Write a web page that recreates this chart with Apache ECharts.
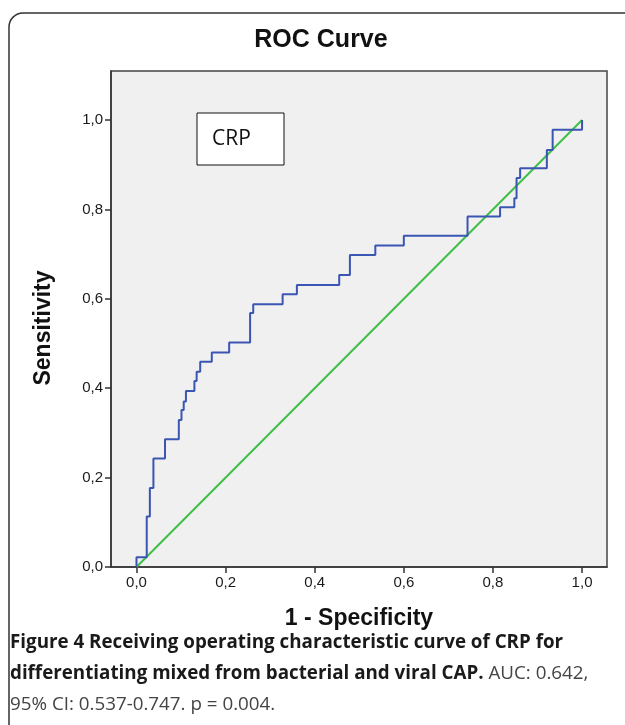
<!DOCTYPE html>
<html>
<head>
<meta charset="utf-8">
<script src="https://cdn.jsdelivr.net/npm/echarts@6/dist/echarts.min.js"></script>
<style>
  html, body { margin: 0; padding: 0; background: #fff; }
  #chart { width: 625px; height: 725px; }
</style>
</head>
<body>
<div id="chart"></div>
<script>
// ROC points (1 - specificity, sensitivity), drawn as a step line
var fpr = [0, 0, 0.023, 0.030, 0.038, 0.064, 0.095, 0.101, 0.106, 0.111, 0.130, 0.135, 0.143, 0.169, 0.208,
	0.255, 0.262, 0.328, 0.360, 0.455, 0.479, 0.536, 0.600, 0.743, 0.816, 0.848, 0.853, 0.861, 0.921, 0.934, 1.000];
var tpr = [0, 0.022, 0.113, 0.177, 0.243, 0.286, 0.329, 0.351, 0.370, 0.394, 0.416, 0.437, 0.459, 0.480, 0.502,
	0.568, 0.588, 0.610, 0.631, 0.653, 0.698, 0.719, 0.741, 0.784, 0.805, 0.825, 0.870, 0.892, 0.933, 0.978, 1.000];
var refX = [0, 1];
var refY = [0, 1];
var ticks = [0, 0.2, 0.4, 0.6, 0.8, 1.0];

var rocData = [];
for (var i = 0; i < fpr.length; i++) {
	rocData.push([fpr[i], tpr[i]]);
}
var refData = [];
for (var j = 0; j < refX.length; j++) {
	refData.push([refX[j], refY[j]]);
}

function fmt(v) {
	return v.toFixed(1).replace('.', ',');
}

var chart = echarts.init(document.getElementById('chart'));
var option = {
	backgroundColor: '#fff',
	animation: false,
	grid: {
		left: 111, top: 71, right: 18, bottom: 158,
		show: true,
		backgroundColor: '#f0f0f0',
		borderColor: '#444',
		borderWidth: 1.5
	},
	xAxis: {
		type: 'value',
		min: -0.0572,
		max: 1.056,
		name: '1 - Specificity',
		nameLocation: 'middle',
		nameGap: 40,
		nameTextStyle: { fontFamily: 'Liberation Sans', fontWeight: 'bold', fontSize: 23, color: '#111' },
		axisLine: { show: true, onZero: false, lineStyle: { color: '#333', width: 1.5 } },
		axisTick: { show: true, length: 6, customValues: ticks, lineStyle: { color: '#333', width: 1.5 } },
		axisLabel: {
			customValues: ticks, formatter: fmt, margin: 8,
			fontFamily: 'Liberation Sans', fontSize: 15, color: '#1a1a1a'
		},
		splitLine: { show: false }
	},
	yAxis: {
		type: 'value',
		min: 0,
		max: 1.1096,
		axisLine: { show: true, onZero: false, lineStyle: { color: '#333', width: 1.5 } },
		axisTick: { show: true, length: 6, customValues: ticks, lineStyle: { color: '#333', width: 1.5 } },
		axisLabel: {
			customValues: ticks, formatter: fmt, margin: 8,
			fontFamily: 'Liberation Sans', fontSize: 15, color: '#1a1a1a'
		},
		splitLine: { show: false }
	},
	series: [
		{
			name: 'Reference',
			type: 'line',
			data: refData,
			showSymbol: false,
			lineStyle: { color: '#3fbf47', width: 2 },
			z: 2
		},
		{
			name: 'CRP',
			type: 'line',
			step: 'end',
			data: rocData,
			showSymbol: false,
			lineStyle: { color: '#3b55b3', width: 2 },
			z: 3
		}
	],
	graphic: [
		{
			type: 'rect',
			shape: { x: 9, y: 13, width: 700, height: 800, r: 14 },
			style: { fill: 'none', stroke: '#333', lineWidth: 1.5 },
			silent: true
		},
		{
			type: 'text',
			x: 321, y: 40,
			style: {
				text: 'ROC Curve', fontFamily: 'Liberation Sans', fontWeight: 'bold', fontSize: 25, fill: '#111',
				textAlign: 'center', textVerticalAlign: 'middle'
			}
		},
		{
			type: 'text',
			x: 44, y: 328,
			rotation: Math.PI / 2,
			style: {
				text: 'Sensitivity', fontFamily: 'Liberation Sans', fontWeight: 'bold', fontSize: 23, fill: '#111',
				textAlign: 'center', textVerticalAlign: 'middle'
			}
		},
		{
			type: 'rect',
			shape: { x: 197, y: 113, width: 87, height: 52 },
			style: { fill: '#fff', stroke: '#111', lineWidth: 1 },
			z: 10
		},
		{
			type: 'text',
			x: 212, y: 139,
			style: { text: 'CRP', fontFamily: 'Open Sans', fontSize: 21, fill: '#111', verticalAlign: 'middle' },
			z: 11
		},
		{
			type: 'text',
			x: 10, y: 627,
			style: {
				rich: {
					b: { fontFamily: 'Open Sans', fontWeight: 'bold', fontSize: 18.8, fill: '#1a1a1a', lineHeight: 31 },
					r: { fontFamily: 'Open Sans', fontSize: 18.8, fill: '#444', lineHeight: 31 }
				},
				text: '{b|Figure 4 Receiving operating characteristic curve of CRP for}\n' +
					'{b|differentiating mixed from bacterial and viral CAP.}{r| AUC: 0.642,}\n' +
					'{r|95% CI: 0.537-0.747. p = 0.004.}'
			}
		}
	]
};
chart.setOption(option);
</script>
</body>
</html>
